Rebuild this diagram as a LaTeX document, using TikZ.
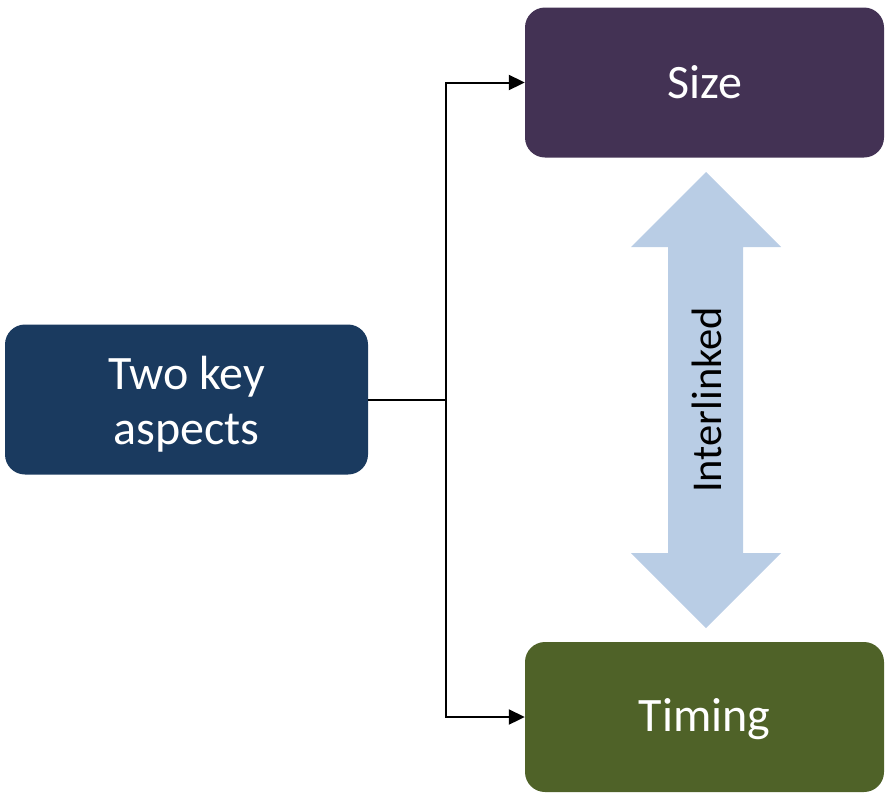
\documentclass[tikz,border=0pt]{standalone}
\usepackage{fontspec}
\setmainfont{Carlito}
\usetikzlibrary{arrows.meta}
\definecolor{navybox}{HTML}{1A3A5F}
\definecolor{plumbox}{HTML}{433254}
\definecolor{olivebox}{HTML}{4F6228}
\definecolor{linkblue}{HTML}{B9CDE5}
\begin{document}
\begin{tikzpicture}[x=1pt,y=-1pt,
  box/.style={rounded corners=20pt, inner sep=0pt, text=white, align=center,
    font=\fontsize{48}{55}\selectfont},
  feed/.style={line width=2pt, -{Triangle[length=16pt,width=15pt]}}]
  \useasboundingbox (0,0) rectangle (885,793);

  % boxes
  \node[box, fill=navybox, minimum width=363pt, minimum height=150pt] (two) at (186.5,399.5) {};
  \node[text=white, align=center, font=\fontsize{48}{55}\selectfont] (twotext) at (186.5,404) {Two key\\aspects};
  \node[box, fill=plumbox, minimum width=359pt, minimum height=150pt] (size) at (704.5,82.5) {Size};
  \node[box, fill=olivebox, minimum width=359pt, minimum height=150pt] (timing) at (704.5,717) {};
  \node[text=white, font=\fontsize{48}{55}\selectfont] (timingtext) at (704.5,719) {Timing};

  % branching connector
  \coordinate (split) at (446,399.5);
  \draw[line width=2pt] (two.east) -- (split);
  \draw[feed] (split) |- (size.west);
  \draw[feed] (split) |- (timing.west);

  % double-headed link arrow
  \fill[linkblue] (706,172) -- (781,247) -- (743,247) -- (743,553) -- (781,553)
    -- (706,628) -- (631,553) -- (668,553) -- (668,247) -- (631,247) -- cycle;
  \node[rotate=90, font=\fontsize{42.5}{50}\selectfont] (link) at (707,400) {Interlinked};
\end{tikzpicture}
\end{document}
